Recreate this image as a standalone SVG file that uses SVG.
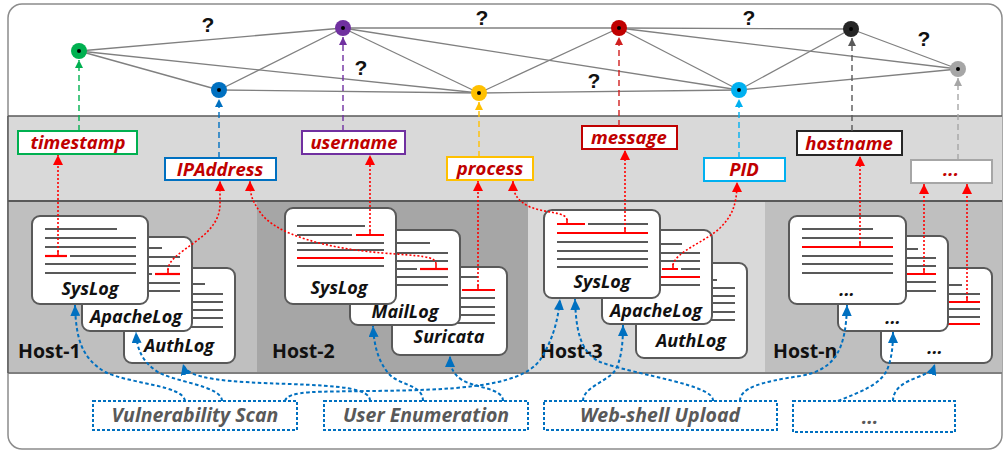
<svg xmlns="http://www.w3.org/2000/svg" width="1006" height="452" viewBox="0 0 1006 452">
<style>
.card{fill:#fff;stroke:#595959;stroke-width:2}
.ln{stroke:#595959;stroke-width:2.2;fill:none}
.rl{stroke:#ff0000;stroke-width:2.2;fill:none}
.cl{font-family:"Open Sans","Liberation Sans",sans-serif;font-weight:bold;font-style:italic;font-size:18px;fill:#111;text-anchor:middle}
.lb{font-family:"Open Sans","Liberation Sans",sans-serif;font-weight:bold;font-style:italic;font-size:18.5px;fill:#c00000;text-anchor:middle}
.bt{font-family:"Open Sans","Liberation Sans",sans-serif;font-weight:bold;font-style:italic;font-size:19.5px;fill:#595959;text-anchor:middle}
.host{font-family:"Open Sans","Liberation Sans",sans-serif;font-weight:bold;font-size:19.5px;fill:#111}
.q{font-family:"Liberation Sans",sans-serif;font-weight:bold;font-size:21px;fill:#111;text-anchor:middle}
.edge{stroke:#808080;stroke-width:1.3;fill:none}
.rd{fill:none;stroke:#ff0000;stroke-width:1.6;stroke-dasharray:2 2}
.tick{fill:none;stroke:#ff0000;stroke-width:1.6}
.bd{fill:none;stroke:#0070c0;stroke-width:2;stroke-dasharray:3.5 2.5}
.nd{fill:none;stroke-width:1.4;stroke-dasharray:6 4}
.box{fill:#fff;stroke-width:2}
.abox{fill:#fff;stroke:#0070c0;stroke-width:2;stroke-dasharray:3 2}
.dot{fill:#000}
</style>
<defs>
<marker id="aBlue" markerUnits="userSpaceOnUse" markerWidth="12" markerHeight="10" refX="11" refY="5" orient="auto"><path d="M0,0 L11,5 L0,10 z" fill="#0070c0"/></marker>
<marker id="aRed" markerUnits="userSpaceOnUse" markerWidth="11" markerHeight="10" refX="10" refY="5" orient="auto"><path d="M0,0 L10,5 L0,10 z" fill="#ff0000"/></marker>
<marker id="mGreen" markerUnits="userSpaceOnUse" markerWidth="8" markerHeight="8" refX="8" refY="4" orient="auto"><path d="M0,0 L8,4 L0,8 z" fill="#00b050"/></marker>
<marker id="mBlue" markerUnits="userSpaceOnUse" markerWidth="8" markerHeight="8" refX="8" refY="4" orient="auto"><path d="M0,0 L8,4 L0,8 z" fill="#0070c0"/></marker>
<marker id="mPurple" markerUnits="userSpaceOnUse" markerWidth="8" markerHeight="8" refX="8" refY="4" orient="auto"><path d="M0,0 L8,4 L0,8 z" fill="#7030a0"/></marker>
<marker id="mYellow" markerUnits="userSpaceOnUse" markerWidth="8" markerHeight="8" refX="8" refY="4" orient="auto"><path d="M0,0 L8,4 L0,8 z" fill="#ffc000"/></marker>
<marker id="mRed" markerUnits="userSpaceOnUse" markerWidth="8" markerHeight="8" refX="8" refY="4" orient="auto"><path d="M0,0 L8,4 L0,8 z" fill="#d02020"/></marker>
<marker id="mLblue" markerUnits="userSpaceOnUse" markerWidth="8" markerHeight="8" refX="8" refY="4" orient="auto"><path d="M0,0 L8,4 L0,8 z" fill="#00b0f0"/></marker>
<marker id="mBlack" markerUnits="userSpaceOnUse" markerWidth="8" markerHeight="8" refX="8" refY="4" orient="auto"><path d="M0,0 L8,4 L0,8 z" fill="#595959"/></marker>
<marker id="mGray" markerUnits="userSpaceOnUse" markerWidth="8" markerHeight="8" refX="8" refY="4" orient="auto"><path d="M0,0 L8,4 L0,8 z" fill="#a6a6a6"/></marker>
</defs>

<!-- frame and bands -->
<rect x="8" y="4" width="994" height="445" rx="14" fill="#fff" stroke="#8c8c8c" stroke-width="1.5"/>
<rect x="8" y="116" width="994" height="85" fill="#d9d9d9"/>
<rect x="8" y="201" width="249" height="172" fill="#bfbfbf"/>
<rect x="257" y="201" width="271" height="172" fill="#a6a6a6"/>
<rect x="528" y="201" width="237" height="172" fill="#d9d9d9"/>
<rect x="765" y="201" width="237" height="172" fill="#bfbfbf"/>
<line x1="8" y1="116" x2="1002" y2="116" stroke="#595959" stroke-width="1.5"/>
<line x1="8" y1="201" x2="1002" y2="201" stroke="#595959" stroke-width="2"/>
<line x1="8" y1="373" x2="1002" y2="373" stroke="#7f7f7f" stroke-width="2"/>
<line x1="8" y1="116" x2="8" y2="373" stroke="#595959" stroke-width="1.5"/>

<!-- graph edges -->
<g id="edges">
<line class="edge" x1="79" y1="51" x2="343" y2="28"/>
<line class="edge" x1="79" y1="51" x2="219" y2="90"/>
<line class="edge" x1="79" y1="51" x2="479" y2="93"/>
<line class="edge" x1="219" y1="90" x2="343" y2="28"/>
<line class="edge" x1="219" y1="90" x2="479" y2="93"/>
<line class="edge" x1="343" y1="28" x2="619" y2="28"/>
<line class="edge" x1="343" y1="28" x2="479" y2="93"/>
<line class="edge" x1="343" y1="28" x2="739" y2="90"/>
<line class="edge" x1="479" y1="93" x2="619" y2="28"/>
<line class="edge" x1="479" y1="93" x2="739" y2="90"/>
<line class="edge" x1="619" y1="28" x2="851" y2="29"/>
<line class="edge" x1="619" y1="28" x2="958" y2="69"/>
<line class="edge" x1="619" y1="28" x2="739" y2="90"/>
<line class="edge" x1="739" y1="90" x2="851" y2="29"/>
<line class="edge" x1="739" y1="90" x2="958" y2="69"/>
<line class="edge" x1="851" y1="29" x2="958" y2="69"/>
<text class="q" x="208" y="32">?</text>
<text class="q" x="482" y="25">?</text>
<text class="q" x="361" y="75">?</text>
<text class="q" x="594" y="88">?</text>
<text class="q" x="749" y="25">?</text>
<text class="q" x="924" y="46">?</text>
</g>

<!-- attribute nodes -->
<g id="n-timestamp"><circle cx="79" cy="51" r="8" fill="#00b050"/><circle class="dot" cx="79" cy="51" r="2"/></g>
<g id="n-ip"><circle cx="219" cy="90" r="8" fill="#0070c0"/><circle class="dot" cx="219" cy="90" r="2"/></g>
<g id="n-user"><circle cx="343" cy="28" r="8" fill="#7030a0"/><circle class="dot" cx="343" cy="28" r="2"/></g>
<g id="n-process"><circle cx="479" cy="93" r="8" fill="#ffc000"/><circle class="dot" cx="479" cy="93" r="2"/></g>
<g id="n-message"><circle cx="619" cy="28" r="8" fill="#c00000"/><circle class="dot" cx="619" cy="28" r="2"/></g>
<g id="n-pid"><circle cx="739" cy="90" r="8" fill="#00b0f0"/><circle class="dot" cx="739" cy="90" r="2"/></g>
<g id="n-hostname"><circle cx="851" cy="29" r="8" fill="#262626"/><circle class="dot" cx="851" cy="29" r="2"/></g>
<g id="n-more"><circle cx="958" cy="69" r="8" fill="#a6a6a6"/><circle class="dot" cx="958" cy="69" r="2"/></g>

<!-- field label boxes -->
<g id="f-timestamp"><rect class="box" x="18" y="131" width="119" height="23" stroke="#00b050"/><text class="lb" x="78" y="149">timestamp</text></g>
<g id="f-ip"><rect class="box" x="165" y="158" width="111" height="22" stroke="#0070c0"/><text class="lb" x="220" y="175.5">IPAddress</text></g>
<g id="f-user"><rect class="box" x="302" y="131" width="103" height="23" stroke="#7030a0"/><text class="lb" x="354" y="149">username</text></g>
<g id="f-process"><rect class="box" x="447" y="157" width="86" height="23" stroke="#ffc000"/><text class="lb" x="490" y="175">process</text></g>
<g id="f-message"><rect class="box" x="582" y="126" width="95" height="23" stroke="#c00000"/><text class="lb" x="629" y="144">message</text></g>
<g id="f-pid"><rect class="box" x="704" y="158" width="81" height="23" stroke="#00b0f0"/><text class="lb" x="744" y="176">PID</text></g>
<g id="f-hostname"><rect class="box" x="797" y="131" width="105" height="24" stroke="#262626" stroke-width="2.5"/><text class="lb" x="849" y="149.5">hostname</text></g>
<g id="f-more"><rect class="box" x="911" y="160" width="81" height="23" stroke="#a6a6a6"/><text class="lb" x="951" y="176">...</text></g>

<!-- Host labels -->
<text class="host" x="18" y="358">Host-1</text>
<text class="host" x="272" y="358">Host-2</text>
<text class="host" x="540" y="358">Host-3</text>
<text class="host" x="773" y="358">Host-n</text>

<!-- Host-1 cards -->
<g id="h1-authlog"><rect class="card" x="124" y="268" width="111" height="95" rx="8"/>
<path class="ln" d="M137,284H205M137,294H223M137,302H223M137,310H223M137,318H223M137,327H223"/>
<text class="cl" x="179" y="352">AuthLog</text></g>
<g id="h1-apachelog"><rect class="card" x="82" y="237" width="110" height="94" rx="8"/>
<path class="ln" d="M95,248H162M95,257H180M95,266H180M95,274H152M95,283H180M95,291H180"/>
<path class="rl" d="M155,274H180"/>
<text class="cl" x="136" y="323">ApacheLog</text></g>
<g id="h1-syslog"><rect class="card" x="32" y="216" width="116" height="88" rx="8"/>
<path class="ln" d="M45,229H117M45,238H136M45,247H136M70,256H136M45,264H136M45,273H136"/>
<path class="rl" d="M45,256H67"/>
<text class="cl" x="90" y="295">SysLog</text></g>

<!-- Host-2 cards -->
<g id="h2-suricata"><rect class="card" x="392" y="267" width="115" height="88" rx="8"/>
<path class="ln" d="M405,277H478M405,290H459M405,298H495M405,307H495M405,315H495M405,323H495"/>
<path class="rl" d="M462,290H495"/>
<text class="cl" x="449" y="343">Suricata</text></g>
<g id="h2-maillog"><rect class="card" x="350" y="230" width="110" height="95" rx="8"/>
<path class="ln" d="M363,243H430M363,253H448M363,261H448M363,269H417M363,277H448M363,285H448"/>
<path class="rl" d="M420,269H448"/>
<text class="cl" x="405" y="318">MailLog</text></g>
<g id="h2-syslog"><rect class="card" x="285" y="208" width="111" height="96" rx="8"/>
<path class="ln" d="M297,226H365M297,235H352M297,243H384M297,250H384M297,266H384"/>
<path class="rl" d="M356,235H384M297,258H384"/>
<text class="cl" x="339" y="294">SysLog</text></g>

<!-- Host-3 cards -->
<g id="h3-authlog"><rect class="card" x="636" y="263" width="111" height="95" rx="8"/>
<path class="ln" d="M649,280H717M649,288H735M649,296H735M649,303H735M649,312H735M649,320H735"/>
<text class="cl" x="691" y="347">AuthLog</text></g>
<g id="h3-apachelog"><rect class="card" x="602" y="230" width="110" height="94" rx="8"/>
<path class="ln" d="M615,244H682M615,253H700M615,261H700M615,269H659M681,269H700M615,285H700"/>
<path class="rl" d="M662,269H678M615,277H700"/>
<text class="cl" x="656" y="317">ApacheLog</text></g>
<g id="h3-syslog"><rect class="card" x="544" y="210" width="116" height="88" rx="8"/>
<path class="ln" d="M588,224H648M557,242H648M557,251H648M557,259H648M557,267H648"/>
<path class="rl" d="M557,224H585M557,233H648"/>
<text class="cl" x="602" y="288">SysLog</text></g>

<!-- Host-n cards -->
<g id="hn-card3"><rect class="card" x="881" y="268" width="111" height="95" rx="8"/>
<path class="ln" d="M894,285H962M894,294H980M894,309H980M894,317H980"/>
<path class="rl" d="M894,302H980M894,324H980"/>
<text class="cl" x="935" y="354">...</text></g>
<g id="hn-card2"><rect class="card" x="838" y="236" width="110" height="95" rx="8"/>
<path class="ln" d="M851,249H918M851,258H936M851,266H936M851,282H936M851,291H936"/>
<path class="rl" d="M851,274H936"/>
<text class="cl" x="893" y="324">...</text></g>
<g id="hn-card1"><rect class="card" x="789" y="216" width="117" height="88" rx="8"/>
<path class="ln" d="M802,229H873M802,238H893M802,256H893M802,264H893M802,273H893"/>
<path class="rl" d="M802,247H893"/>
<text class="cl" x="847" y="296">...</text></g>

<!-- attack boxes -->
<g id="a-vuln"><rect class="abox" x="93" y="401" width="204" height="29"/><text class="bt" x="195" y="422">Vulnerability Scan</text></g>
<g id="a-user"><rect class="abox" x="324" y="401" width="204" height="29"/><text class="bt" x="426" y="422">User Enumeration</text></g>
<g id="a-web"><rect class="abox" x="544" y="401" width="233" height="29"/><text class="bt" x="660" y="422">Web-shell Upload</text></g>
<g id="a-more"><rect class="abox" x="793" y="401" width="162" height="31"/><text class="bt" x="870" y="424">...</text></g>

<!-- connectors -->
<g id="connectors">
<path class="nd" stroke="#00b050" d="M79,131V60" marker-end="url(#mGreen)"/>
<path class="nd" stroke="#0070c0" d="M219,158V99" marker-end="url(#mBlue)"/>
<path class="nd" stroke="#7030a0" d="M343,131V37" marker-end="url(#mPurple)"/>
<path class="nd" stroke="#ffc000" d="M479,157V102" marker-end="url(#mYellow)"/>
<path class="nd" stroke="#d02020" d="M619,126V37" marker-end="url(#mRed)"/>
<path class="nd" stroke="#00b0f0" d="M739,158V99" marker-end="url(#mLblue)"/>
<path class="nd" stroke="#595959" d="M852,131V38" marker-end="url(#mBlack)"/>
<path class="nd" stroke="#a6a6a6" d="M958,160V78" marker-end="url(#mGray)"/>

<path class="tick" d="M58,251V256M168,269V274M370,230V235M436,264V269M478,285V290M567,219V224M625,228V233M673,264V269M860,242V247M924,269V274M967,297V302"/>
<path class="rd" d="M58,252V155" marker-end="url(#aRed)"/>
<path class="rd" d="M168,270C168,250 219,240 220,205L220,181" marker-end="url(#aRed)"/>
<path class="rd" d="M436,264C436,256 420,256 383,253C330,249 275,235 260,212C252,200 250,195 250,181" marker-end="url(#aRed)"/>
<path class="rd" d="M370,231V155" marker-end="url(#aRed)"/>
<path class="rd" d="M478,286V181" marker-end="url(#aRed)"/>
<path class="rd" d="M567,220C567,212 545,213 530,207C518,201 513,195 513,181" marker-end="url(#aRed)"/>
<path class="rd" d="M625,229V150" marker-end="url(#aRed)"/>
<path class="rd" d="M673,265C675,252 705,242 720,228C732,216 737,205 737,182" marker-end="url(#aRed)"/>
<path class="rd" d="M860,243V156" marker-end="url(#aRed)"/>
<path class="rd" d="M924,270V184" marker-end="url(#aRed)"/>
<path class="rd" d="M967,298V184" marker-end="url(#aRed)"/>

<path class="bd" d="M185,401C183,385 130,384 105,372C82,358 76,340 75,305" marker-end="url(#aBlue)"/>
<path class="bd" d="M222,401C222,385 170,382 155,370C142,360 137,350 136,332" marker-end="url(#aBlue)"/>
<path class="bd" d="M285,401C288,390 320,392 370,391C450,390 520,388 540,360C553,340 558,320 560,299" marker-end="url(#aBlue)"/>
<path class="bd" d="M370,401C370,388 340,386 290,384C230,382 187,380 183,364" marker-end="url(#aBlue)"/>
<path class="bd" d="M423,401C423,385 400,385 390,375C378,362 374,345 373,326" marker-end="url(#aBlue)"/>
<path class="bd" d="M503,401C503,388 475,388 462,380C452,373 450,366 450,356" marker-end="url(#aBlue)"/>
<path class="bd" d="M713,401C715,385 640,376 600,362C580,352 576,330 575,299" marker-end="url(#aBlue)"/>
<path class="bd" d="M583,401C583,388 605,382 614,372C621,362 623,345 623,325" marker-end="url(#aBlue)"/>
<path class="bd" d="M740,401C740,388 760,382 800,376C835,370 846,350 847,305" marker-end="url(#aBlue)"/>
<path class="bd" d="M838,401C860,392 880,385 887,370C892,358 893,345 893,332" marker-end="url(#aBlue)"/>
<path class="bd" d="M893,401C893,388 905,382 918,377C928,373 933,370 935,364" marker-end="url(#aBlue)"/>
</g>
</svg>
